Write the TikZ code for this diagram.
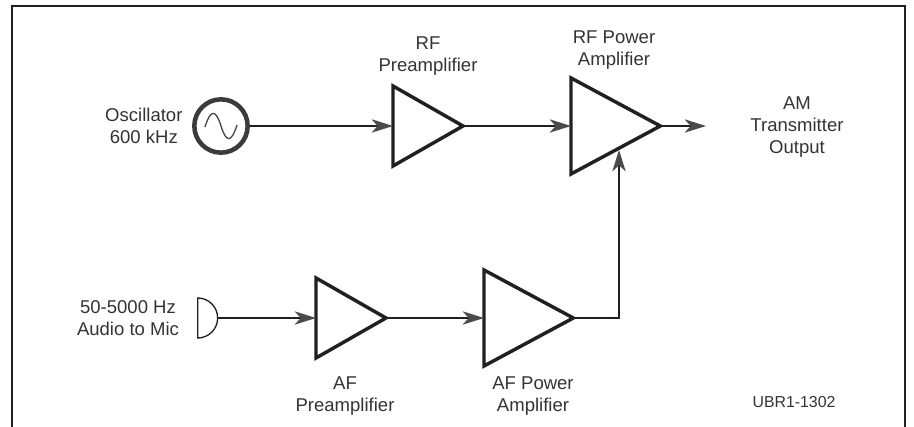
\documentclass[tikz,border=0pt]{standalone}
\usepackage{fontspec}
\setmainfont{Liberation Sans}
\usepackage{xcolor}
\usetikzlibrary{arrows.meta,shapes.geometric,positioning,calc}
\definecolor{inkdark}{HTML}{231F20}
\definecolor{inktext}{HTML}{333333}
\definecolor{inkhead}{HTML}{4A4A4A}

\begin{document}
\begin{tikzpicture}[x=0.75pt,y=-0.75pt,
  amp/.style={draw=inkdark,isosceles triangle,isosceles triangle stretches,
              shape border rotate=0,line width=2.6pt,inner sep=0pt,outer sep=0pt},
  smallamp/.style={amp,minimum width=60pt,minimum height=52.5pt},
  bigamp/.style={amp,minimum width=72pt,minimum height=67pt},
  wire/.style={draw=inkdark,line width=1.2pt,
               -{Stealth[length=16pt,width=10pt,inset=4.5pt,color=inkhead]}},
  lbl/.style={align=center,text=inktext,inner sep=0pt,
              font=\fontsize{13.9}{16.5}\selectfont}]
  \useasboundingbox (0,0) rectangle (914,427);
  % frame, open at the bottom
  \draw[inkdark,line width=2pt] (12,427) -- (12,6) -- (905,6) -- (905,427);

  % top row
  \node[draw=inkhead!80!black,circle,line width=3.4pt,minimum size=40pt,inner sep=0pt] (osc) at (221,126) {};
  \node[smallamp,anchor=lower side] (rfpre) at (393,126) {};
  \node[bigamp,anchor=lower side] (rfpow) at (571,126) {};
  \coordinate (rfout) at (706,126);
  \coordinate (rfin) at (619,150);

  % bottom row
  \node[draw=inkdark,semicircle,shape border rotate=270,line width=1pt,
        minimum width=30pt,minimum height=15pt,inner sep=0pt,anchor=chord center] (mic) at (197,318) {};
  \node[smallamp,anchor=lower side] (afpre) at (316,318) {};
  \node[bigamp,anchor=lower side] (afpow) at (484,318) {};

  % sine inside the oscillator
  \draw[inkhead,line width=1pt,shift={(osc)}] (-16,1) .. controls (-10,-18) and (-5,-16) .. (0,0)
    .. controls (5,16) and (10,18) .. (16,-1);

  % connectors
  \draw[wire] (osc) -- (rfpre.lower side);
  \draw[wire] (rfpre.apex) -- (rfpow.lower side);
  \draw[wire] (rfpow.apex) -- (rfout);
  \draw[wire] (mic.apex) -- (afpre.lower side);
  \draw[wire] (afpre.apex) -- (afpow.lower side);
  \draw[wire] (afpow.apex) -| (rfin);

  % labels
  \node[lbl,left=7pt of osc] (osclbl) {Oscillator\\600 kHz};
  \node[lbl] (rfprelbl) at (428,56) {RF\\Preamplifier};
  \node[lbl] (rfpowlbl) at (614,50) {RF Power\\Amplifier};
  \node[lbl] (outlbl) at (797,127) {AM\\Transmitter\\Output};
  \node[lbl] (miclbl) at (128,318) {50-5000 Hz\\Audio to Mic};
  \node[lbl] (afprelbl) at (345,396) {AF\\Preamplifier};
  \node[lbl] (afpowlbl) at (533,396) {AF Power\\Amplifier};
  \node[lbl,font=\fontsize{11.9}{14}\selectfont] (figid) at (794,402) {UBR1-1302};
\end{tikzpicture}
\end{document}
